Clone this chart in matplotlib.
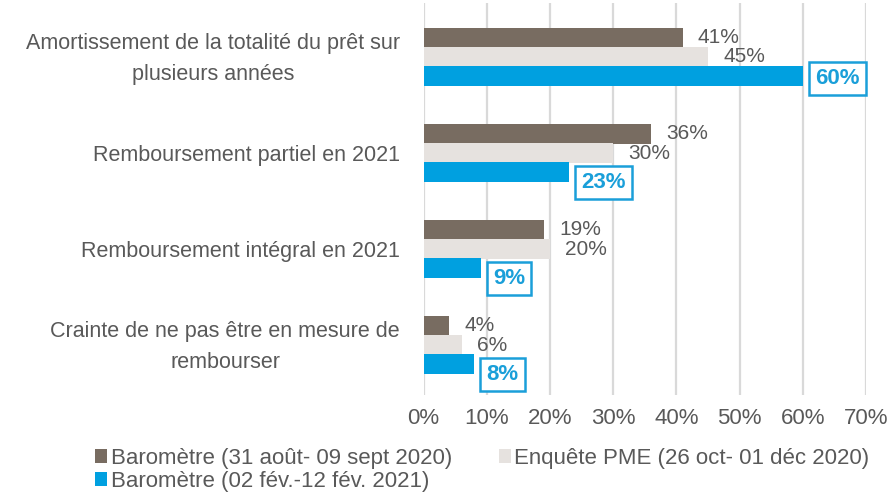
import matplotlib
matplotlib.use("Agg")
import matplotlib.pyplot as plt
import numpy as np

plt.rcParams["font.family"] = ["Liberation Sans", "DejaVu Sans"]

categories = [
    "Amortissement de la totalité du prêt sur\nplusieurs années",
    "Remboursement partiel en 2021",
    "Remboursement intégral en 2021",
    "Crainte de ne pas être en mesure de\nrembourser",
]
series_names = [
    "Baromètre (31 août- 09 sept 2020)",
    "Enquête PME (26 oct- 01 déc 2020)",
    "Baromètre (02 fév.-12 fév. 2021)",
]
baro_2020 = [41, 36, 19, 4]
pme_2020 = [45, 30, 20, 6]
baro_2021 = [60, 23, 9, 8]
xticks = [0, 10, 20, 30, 40, 50, 60, 70]

BROWN = "#786c61"
LIGHT = "#e6e2df"
BLUE = "#00a0e0"
BLUE_TXT = "#1a9fd9"
GREY_TXT = "#595959"
GRID = "#d9d9d9"

fig = plt.figure(figsize=(8.9, 4.95), dpi=100)
ax = fig.add_axes([0.476, 0.202, 0.497, 0.792])

y = np.arange(len(categories))
h = 0.205
off = 0.2
b1 = ax.barh(y - off, baro_2020, height=h, color=BROWN, zorder=2)
b2 = ax.barh(y, pme_2020, height=h, color=LIGHT, zorder=2)
b3 = ax.barh(y + off, baro_2021, height=h, color=BLUE, zorder=2)

ax.set_xlim(0, 70)
ax.set_ylim(3.52, -0.5625)
ax.set_xticks(xticks)
ax.set_xticklabels([f"{t}%" for t in xticks], fontsize=16, color=GREY_TXT)
ax.set_yticks([])
ax.tick_params(axis="both", length=0)
ax.tick_params(axis="x", pad=9)
for s in ax.spines.values():
    s.set_visible(False)
ax.grid(axis="x", color=GRID, linewidth=1.6, zorder=0)
ax.set_axisbelow(True)

# category labels (two-line ones sit slightly higher)
for cat, yy in zip(categories, y):
    two = "\n" in cat
    ax.annotate(cat, xy=(0, yy), xycoords=("axes fraction", "data"),
                xytext=(-17, -1.2 if two else 0), textcoords="offset points",
                ha="right", va="center" if two else "center_baseline",
                multialignment="center", linespacing=1.62,
                fontsize=15.5, color=GREY_TXT)

# value labels
for vals, ypos in ((baro_2020, y - off), (pme_2020, y)):
    for v, yy in zip(vals, ypos):
        ax.annotate(f"{v}%", (v, yy), xytext=(11, 0), textcoords="offset points",
                    ha="left", va="center", fontsize=15, color=GREY_TXT)

blue_dy = [-1.5, -7.5, -7.5, -7.5]
for v, yy, dy in zip(baro_2021, y + off, blue_dy):
    ax.annotate(f"{v}%", (v, yy), xytext=(9, dy), textcoords="offset points",
                ha="left", va="center", fontsize=16, fontweight="bold",
                color=BLUE_TXT,
                bbox=dict(boxstyle="square,pad=0.28", fc="white", ec=BLUE_TXT,
                          lw=1.8))

leg = fig.legend([b1, b3, b2], [series_names[0], series_names[2], series_names[1]],
                 ncol=2, loc="lower left", bbox_to_anchor=(0.097, -0.012),
                 frameon=False, fontsize=16, handlelength=0.55, handleheight=0.55,
                 handletextpad=0.15, columnspacing=2.1, labelspacing=0.1,
                 borderaxespad=0)
for t in leg.get_texts():
    t.set_color(GREY_TXT)

fig.savefig("out.png", dpi=100, facecolor="white")
